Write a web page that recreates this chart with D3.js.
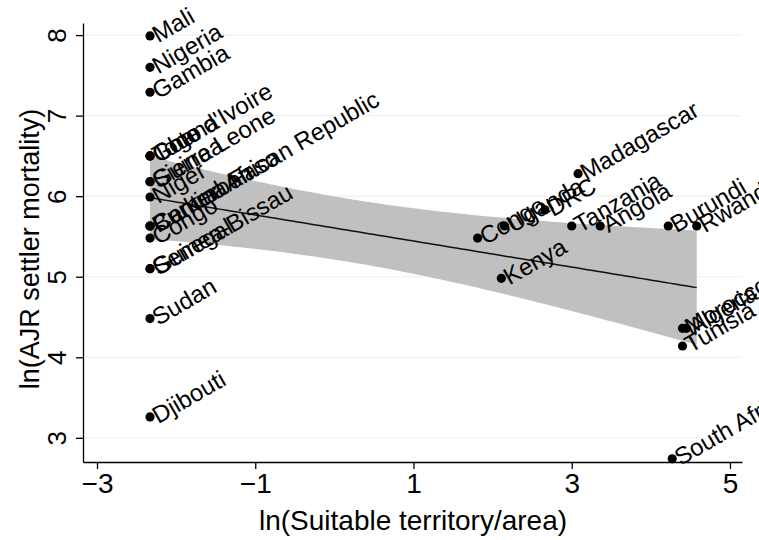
<!DOCTYPE html>
<html>
<head>
<meta charset="utf-8">
<script src="https://cdn.jsdelivr.net/npm/d3@7"></script>
<style>
  body { margin: 0; background: #fff; }
  svg { font-family: "Liberation Sans", Arial, Helvetica, sans-serif; }
</style>
</head>
<body>
<svg id="chart" width="759" height="540"></svg>
<script>
// values
const countries = [
  "Mali", "Nigeria", "Gambia", "Togo", "Ghana", "Cote d'Ivoire",
  "Sierra Leone", "Guinea", "Niger", "Central African Republic", "Burkina Faso",
  "Cameroon", "Congo", "Senegal", "Guinea-Bissau",
  "Sudan", "Djibouti",
  "Congo", "Kenya", "Uganda", "DRC", "Madagascar", "Tanzania", "Angola",
  "Burundi", "Rwanda", "Morocco", "Algeria", "Tunisia", "South Africa"
];
const suitability = [
  -2.33, -2.33, -2.33, -2.33, -2.33, -2.33,
  -2.33, -2.33, -2.33, -2.33, -2.33,
  -2.33, -2.33, -2.33, -2.33,
  -2.33, -2.33,
  1.81, 2.11, 2.15, 2.66, 3.08, 3.00, 3.36,
  4.22, 4.58, 4.40, 4.45, 4.40, 4.27
];
const mortality = [
  7.99, 7.60, 7.29, 6.50, 6.50, 6.50,
  6.18, 6.18, 5.99, 5.63, 5.63,
  5.63, 5.48, 5.10, 5.10,
  4.48, 3.26,
  5.48, 4.98, 5.63, 5.83, 6.28, 5.63, 5.63,
  5.63, 5.63, 4.36, 4.36, 4.14, 2.74
];
const xTicks = [-3, -1, 1, 3, 5];
const yTicks = [3, 4, 5, 6, 7, 8];

const svg = d3.select("#chart");

const x = d3.scaleLinear().domain([-3.177, 5.152]).range([83, 742]);
const y = d3.scaleLinear().domain([2.70, 8.15]).range([462, 23]);

// linear fit with 95% CI of the mean prediction
const n = suitability.length;
const mx = d3.mean(suitability), my = d3.mean(mortality);
let sxx = 0, sxy = 0;
suitability.forEach((v, i) => { sxx += (v - mx) ** 2; sxy += (v - mx) * (mortality[i] - my); });
const slope = sxy / sxx;
const intercept = my - slope * mx;
const ssr = d3.sum(suitability, (v, i) => (mortality[i] - (intercept + slope * v)) ** 2);
const s = Math.sqrt(ssr / (n - 2));
const df = n - 2, z = 1.959964;
const tcrit = z + (z ** 3 + z) / (4 * df) + (5 * z ** 5 + 16 * z ** 3 + 3 * z) / (96 * df * df);

const [xmin, xmax] = d3.extent(suitability);
const grid = d3.range(0, 101).map(k => xmin + (xmax - xmin) * k / 100);
const fit = grid.map(v => {
  const yhat = intercept + slope * v;
  const se = s * Math.sqrt(1 / n + (v - mx) ** 2 / sxx);
  return { v, yhat, lo: yhat - tcrit * se, hi: yhat + tcrit * se };
});

// gridlines
svg.append("g")
  .selectAll("line")
  .data(yTicks)
  .join("line")
    .attr("x1", 83).attr("x2", 742)
    .attr("y1", d => y(d)).attr("y2", d => y(d))
    .attr("stroke", "#eaf2f3")
    .attr("stroke-width", 1.2);

svg.append("path")
  .datum(fit)
  .attr("fill", "#c0c0c0")
  .attr("d", d3.area().x(d => x(d.v)).y0(d => y(d.lo)).y1(d => y(d.hi)));

svg.append("path")
  .datum(fit)
  .attr("fill", "none")
  .attr("stroke", "#111")
  .attr("stroke-width", 1.5)
  .attr("d", d3.line().x(d => x(d.v)).y(d => y(d.yhat)));

// axes
const xAxis = svg.append("g")
  .attr("transform", "translate(0,462)")
  .call(d3.axisBottom(x).tickValues(xTicks).tickSize(7).tickSizeOuter(0).tickFormat(d3.format("d")));
xAxis.selectAll("text").attr("font-size", 28).attr("dy", "0.75em").attr("fill", "#000");

const yAxis = svg.append("g")
  .attr("transform", "translate(83,0)")
  .call(d3.axisLeft(y).tickValues(yTicks).tickSize(7).tickSizeOuter(0).tickFormat(d3.format("d")));
yAxis.selectAll("text")
  .attr("x", null).attr("dy", null)
  .attr("text-anchor", "middle")
  .attr("transform", "translate(-17,0) rotate(-90)")
  .attr("font-size", 26).attr("fill", "#000");

svg.selectAll(".domain").attr("stroke", "#000").attr("stroke-width", 1.3);
svg.selectAll(".tick line").attr("stroke", "#000").attr("stroke-width", 1.3);

svg.append("text")
  .attr("x", 413).attr("y", 530)
  .attr("text-anchor", "middle")
  .attr("font-size", 28)
  .text("ln(Suitable territory/area)");

svg.append("text")
  .attr("transform", "translate(39,249) rotate(-90)")
  .attr("text-anchor", "middle")
  .attr("font-size", 27)
  .text("ln(AJR settler mortality)");

// points and labels
const pts = svg.append("g")
  .selectAll("g")
  .data(countries)
  .join("g")
    .attr("transform", (d, i) => `translate(${x(suitability[i])},${y(mortality[i])})`);

pts.append("circle").attr("r", 4.6).attr("fill", "#000");

pts.append("text")
  .attr("transform", "translate(4,0) rotate(-30)")
  .attr("dy", "0.35em")
  .attr("font-size", 24)
  .attr("fill", "#000")
  .text(d => d);
</script>
</body>
</html>
